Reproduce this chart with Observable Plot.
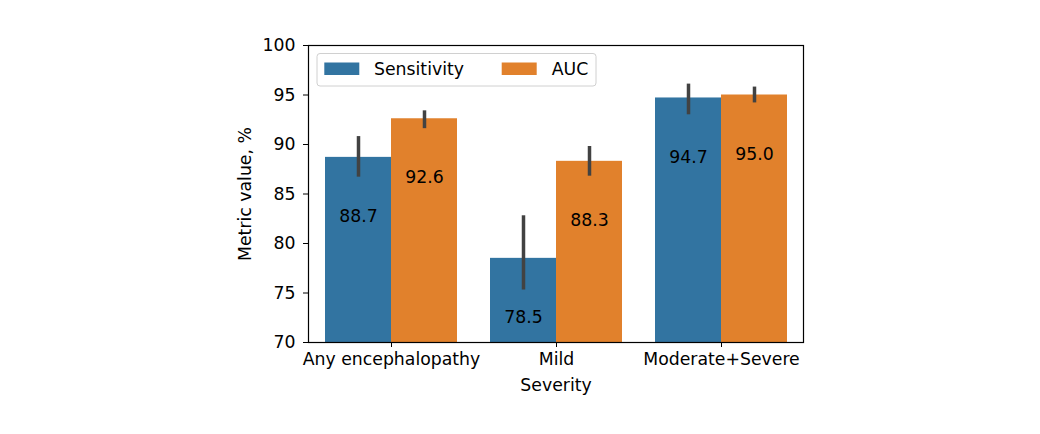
<!DOCTYPE html>
<html>
<head>
<meta charset="utf-8">
<script src="https://cdn.jsdelivr.net/npm/d3@7"></script>
<script src="https://cdn.jsdelivr.net/npm/@observablehq/plot@0.6"></script>
<style>
  html, body { margin: 0; padding: 0; background: white; }
  #chart { width: 1040px; height: 434px; }
</style>
</head>
<body>
<div id="chart"></div>
<script>
const categories = ["Any encephalopathy", "Mild", "Moderate+Severe"];
const seriesNames = ["Sensitivity", "AUC"];
const sensitivity = [88.7, 78.5, 94.7];
const sensitivityLow = [86.7, 75.3, 93.0];
const sensitivityHigh = [90.8, 82.8, 96.1];
const auc = [92.6, 88.3, 95.0];
const aucLow = [91.6, 86.8, 94.2];
const aucHigh = [93.4, 89.8, 95.8];
const yTicks = [70, 75, 80, 85, 90, 95, 100];
const yDomain = [70, 100];
const colors = ["#3274a1", "#e1812c"];

const sens = categories.map((c, i) => ({cat: c, value: sensitivity[i], low: sensitivityLow[i], high: sensitivityHigh[i]}));
const aucData = categories.map((c, i) => ({cat: c, value: auc[i], low: aucLow[i], high: aucHigh[i]}));

const half = 66, shift = 33;
const font = "'DejaVu Sans', sans-serif";

const plot = Plot.plot({
  width: 1040,
  height: 434,
  marginLeft: 308,
  marginRight: 237,
  marginTop: 45,
  marginBottom: 92,
  style: {fontFamily: font, fontSize: "17.3px", color: "black", background: "white", overflow: "visible"},
  x: {type: "band", domain: categories, paddingInner: 0.2, paddingOuter: 0.1, label: null, tickSize: 5, tickPadding: 5},
  y: {domain: yDomain, ticks: yTicks, label: null, tickSize: 5, tickPadding: 8},
  marks: [
    Plot.barY(sens, {x: "cat", y1: yDomain[0], y2: "value", fill: colors[0], insetRight: half, insetLeft: 0}),
    Plot.barY(aucData, {x: "cat", y1: yDomain[0], y2: "value", fill: colors[1], insetLeft: half, insetRight: 0}),
    Plot.ruleX(sens, {x: "cat", y1: "low", y2: "high", dx: -shift, stroke: "#424242", strokeWidth: 3.5}),
    Plot.ruleX(aucData, {x: "cat", y1: "low", y2: "high", dx: shift, stroke: "#424242", strokeWidth: 3.5}),
    Plot.text(sens, {x: "cat", y: "value", text: d => d.value.toFixed(1), dx: -shift, dy: 59, fill: "black", fontSize: 17.3}),
    Plot.text(aucData, {x: "cat", y: "value", text: d => d.value.toFixed(1), dx: shift, dy: 59, fill: "black", fontSize: 17.3}),
    Plot.frame({stroke: "black", strokeWidth: 1.2}),
    Plot.text(["Metric value, %"], {frameAnchor: "left", text: d => d, rotate: -90, dx: -63, textAnchor: "middle", lineAnchor: "middle", fill: "black", fontSize: 17.3}),
    Plot.text(["Severity"], {frameAnchor: "bottom", text: d => d, dy: 43, textAnchor: "middle", lineAnchor: "middle", fill: "black", fontSize: 17.3})
  ]
});

document.getElementById("chart").appendChild(plot);

// Legend drawn inside the SVG
const svg = d3.select(plot);
const lg = svg.append("g").attr("font-family", font).attr("font-size", "17.3px").attr("text-anchor", "start");
lg.append("rect").attr("x", 317).attr("y", 53.5).attr("width", 279).attr("height", 32.5)
  .attr("rx", 3).attr("fill", "white").attr("fill-opacity", 0.85).attr("stroke", "#d0d0d0").attr("stroke-width", 1);
const itemX = [324.3, 501.7];
const textX = [374, 551.7];
seriesNames.forEach((name, i) => {
  lg.append("rect").attr("x", itemX[i]).attr("y", 62.5).attr("width", 35).attr("height", 12.5).attr("fill", colors[i]);
  lg.append("text").attr("x", textX[i]).attr("y", 69).attr("dy", "0.35em").attr("fill", "black").text(name);
});
</script>
</body>
</html>
